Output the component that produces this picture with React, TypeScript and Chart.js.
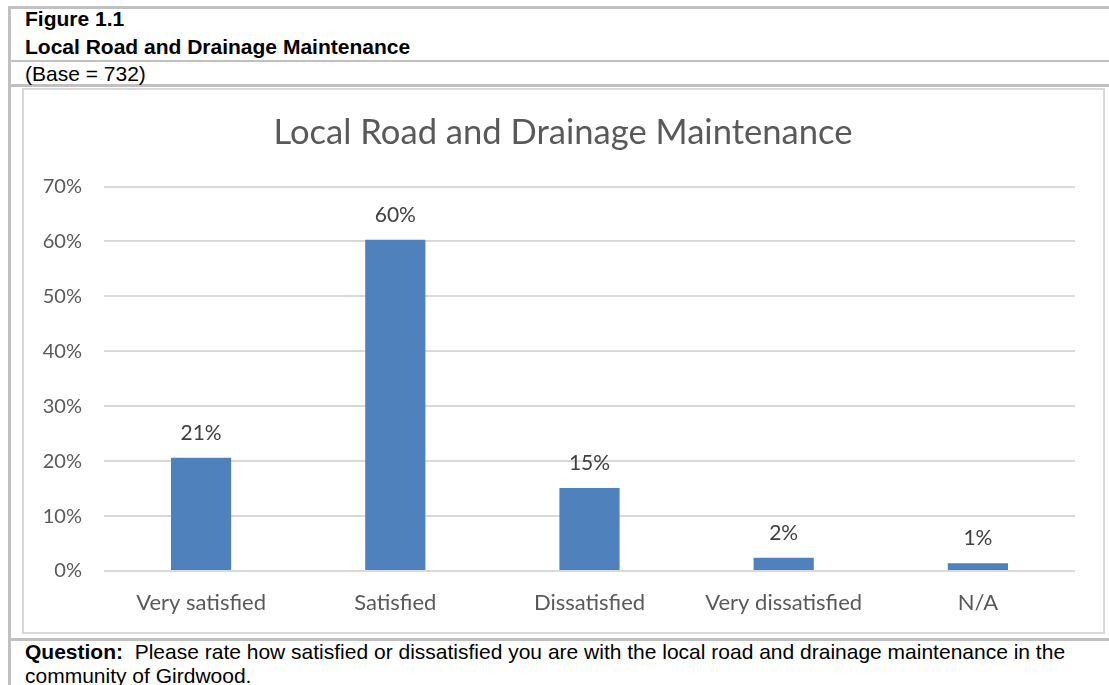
import React, { useEffect, useRef } from "react";
import { Chart, registerables } from "chart.js";

Chart.register(...registerables);

const categories = ["Very satisfied", "Satisfied", "Dissatisfied", "Very dissatisfied", "N/A"];
const values = [0.206, 0.603, 0.151, 0.024, 0.014];
const valueLabels = ["21%", "60%", "15%", "2%", "1%"];
const yTicks = [0, 0.1, 0.2, 0.3, 0.4, 0.5, 0.6, 0.7];

const FONT = "Lato";
const TEXT = "#595959";

const labelPlugin = {
  id: "barLabels",
  afterDatasetsDraw(chart: any) {
    const ctx = chart.ctx;
    const meta = chart.getDatasetMeta(0);
    ctx.save();
    ctx.font = `21px ${FONT}`;
    ctx.fillStyle = "#404040";
    ctx.textAlign = "center";
    ctx.textBaseline = "middle";
    meta.data.forEach((bar: any, i: number) => {
      ctx.fillText(valueLabels[i], bar.x, bar.y - 25);
    });
    ctx.restore();
  },
};

function ChartBox() {
  const ref = useRef<HTMLCanvasElement>(null);
  useEffect(() => {
    if (!ref.current) return;
    const chart = new Chart(ref.current, {
      type: "bar",
      data: {
        labels: categories,
        datasets: [
          {
            data: values,
            backgroundColor: "#4f81bd",
            borderColor: "#4f81bd",
            barPercentage: 0.31,
            categoryPercentage: 1,
          },
        ],
      },
      options: {
        animation: false,
        responsive: false,
        layout: { padding: 0 },
        plugins: {
          legend: { display: false },
          tooltip: { enabled: false },
          title: {
            display: true,
            text: "Local Road and Drainage Maintenance",
            color: TEXT,
            font: { family: FONT, size: 34.6, weight: "normal" },
            padding: { top: 22, bottom: 33 },
          },
        },
        scales: {
          x: {
            grid: { display: false },
            border: { display: false },
            ticks: {
              color: TEXT,
              font: { family: FONT, size: 22 },
              padding: 11,
              maxRotation: 0,
            },
            afterFit(s: any) {
              s.height = 60;
            },
          },
          y: {
            min: 0,
            max: 0.7,
            afterBuildTicks(s: any) {
              s.ticks = yTicks.map((v) => ({ value: v }));
            },
            grid: { color: "#d9d9d9", lineWidth: 2, drawTicks: false },
            border: { display: false },
            ticks: {
              color: TEXT,
              font: { family: FONT, size: 20 },
              padding: 22,
              callback: (v: any) => Math.round(Number(v) * 100) + "%",
            },
            afterFit(s: any) {
              s.width = 80;
            },
          },
          yRight: {
            position: "right",
            min: 0,
            max: 0.7,
            grid: { display: false },
            border: { display: false },
            ticks: { display: false },
            afterFit(s: any) {
              s.width = 27;
            },
          },
        },
      },
      plugins: [labelPlugin],
    });
    return () => chart.destroy();
  }, []);
  return <canvas ref={ref} width={1078} height={541} style={{ display: "block" }} />;
}

export default function App() {
  const gray = "#c0c0c0";
  const abs = (s: React.CSSProperties): React.CSSProperties => ({ position: "absolute", ...s });
  const txt: React.CSSProperties = {
    fontFamily: "'Liberation Sans', Arial, sans-serif",
    fontSize: 21,
    color: "#000",
    whiteSpace: "nowrap",
  };
  return (
    <div style={{ position: "absolute", left: 0, top: 0, width: 1109, height: 685, background: "#fff", overflow: "hidden" }}>
      <div style={abs({ left: 8, top: 6, width: 1101, height: 3, background: gray })} />
      <div style={abs({ left: 8, top: 6, width: 3, height: 679, background: gray })} />
      <div style={abs({ left: 11, top: 60, width: 1098, height: 2, background: gray })} />
      <div style={abs({ left: 11, top: 84, width: 1098, height: 3, background: gray })} />
      <div style={abs({ left: 11, top: 638, width: 1098, height: 3, background: gray })} />
      <div style={abs({ ...txt, left: 25, top: 7, fontWeight: "bold", lineHeight: "24px" })}>Figure 1.1</div>
      <div style={abs({ ...txt, left: 25, top: 35, fontWeight: "bold", lineHeight: "24px" })}>Local Road and Drainage Maintenance</div>
      <div style={abs({ ...txt, left: 25, top: 62, lineHeight: "24px" })}>(Base = 732)</div>
      <div
        style={abs({
          left: 22,
          top: 88,
          width: 1079,
          height: 542,
          border: "2px solid #d9d9d9",
          boxSizing: "content-box",
        })}
      >
        <ChartBox />
      </div>
      <div style={abs({ ...txt, left: 25, top: 640, lineHeight: "24px", whiteSpace: "normal", width: 1075 })}>
        <b>Question:</b>&nbsp; Please rate how satisfied or dissatisfied you are with the local road and drainage maintenance in the community of Girdwood.
      </div>
    </div>
  );
}
